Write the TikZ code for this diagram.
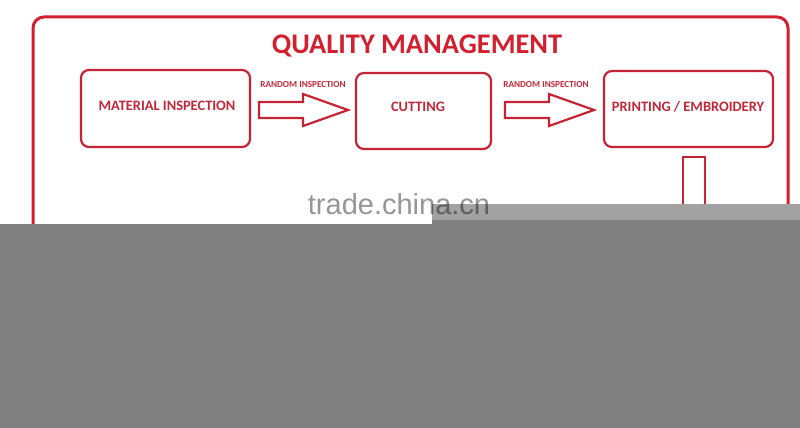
\documentclass[tikz,border=0pt]{standalone}
\usepackage{fontspec}
\setmainfont{Carlito}
\newfontfamily\wmfont{Liberation Sans}
\definecolor{qred}{RGB}{210,32,48}
\definecolor{qtext}{RGB}{192,40,58}
\definecolor{qbox}{RGB}{196,36,52}
\definecolor{darkgr}{RGB}{128,128,128}
\definecolor{lightgr}{RGB}{162,162,162}
\definecolor{wmgr}{RGB}{150,150,150}
\definecolor{wmdark}{RGB}{95,95,95}
\tikzset{
  stepbox/.style={draw=qbox, line width=2.2pt, rounded corners=8pt, inner sep=0pt},
  steptext/.style={text=qtext, font=\bfseries\fontsize{14.4}{16}\selectfont, inner sep=0pt},
  blockarrow/.style={draw=qbox, line width=2.2pt, fill=white, line join=miter},
  arrowlabel/.style={text=qtext, font=\bfseries\fontsize{9.2}{10}\selectfont, inner sep=0pt},
}
\begin{document}
\begin{tikzpicture}[x=1pt,y=-1pt]
\useasboundingbox (0,0) rectangle (800,428);
\fill[white] (0,0) rectangle (800,428);
% outer frame
\draw[qred, line width=3pt, rounded corners=11pt] (33,300) -- (33,17) -- (788,17) -- (788,300);
\node[text=qred, font=\bfseries\fontsize{28.4}{32}\selectfont, inner sep=0pt] (title) at (417,46) {QUALITY MANAGEMENT};
% boxes
\node[stepbox, minimum width=169pt, minimum height=77pt] (b1) at (165.5,108.5) {};
\node[steptext] (t1) at (167,106) {MATERIAL INSPECTION};
\node[stepbox, minimum width=135pt, minimum height=76pt] (b2) at (423.5,111) {};
\node[steptext] (t2) at (418,107) {CUTTING};
\node[stepbox, minimum width=169pt, minimum height=76pt] (b3) at (688.5,109) {};
\node[steptext] (t3) at (688,107) {PRINTING / EMBROIDERY};
% block arrows
\foreach \n/\x in {a1/259, a2/505} {
  \coordinate (\n) at (\x,110);
  \draw[blockarrow] (\n) ++(0,-8) -- ++(44,0) -- ++(0,-8) -- ++(45,16) -- ++(-45,16)
     -- ++(0,-8) -- ++(-44,0) -- cycle;
}
\node[arrowlabel] (l1) at (303,85) {RANDOM INSPECTION};
\node[arrowlabel] (l2) at (546,85) {RANDOM INSPECTION};
% downward arrow shaft
\coordinate (d1) at (683,157);
\coordinate (d2) at (705,157);
\draw[qbox, line width=2.2pt] (683,240) -- (d1) -- (d2) -- (705,240);
% overlay
\fill[darkgr] (0,224) rectangle (800,428);
\fill[lightgr] (432,204) rectangle (800,220);
\fill[darkgr] (432,220) rectangle (800,224);
% watermark
\node[text=wmgr, font=\wmfont\fontsize{29}{32}\selectfont, inner sep=0pt, anchor=base] (wm) at (399,214) {trade.china.cn};
\begin{scope}
\clip (432,204) rectangle (800,224);
\node[text=wmdark, font=\wmfont\fontsize{29}{32}\selectfont, inner sep=0pt, anchor=base] at (399,214) {trade.china.cn};
\end{scope}
\end{tikzpicture}
\end{document}
